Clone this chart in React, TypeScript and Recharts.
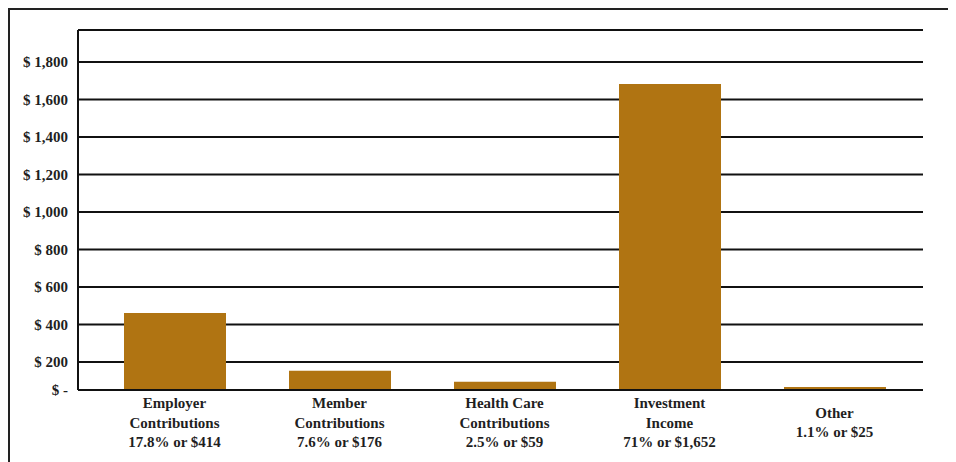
import { BarChart, Bar, XAxis, YAxis, CartesianGrid, ReferenceLine } from 'recharts'

// Category names and the two-or-three line labels printed under each bar
const categories = [
  'Employer Contributions',
  'Member Contributions',
  'Health Care Contributions',
  'Investment Income',
  'Other',
]
const labelLines = [
  ['Employer', 'Contributions', '17.8% or $414'],
  ['Member', 'Contributions', '7.6% or $176'],
  ['Health Care', 'Contributions', '2.5% or $59'],
  ['Investment', 'Income', '71% or $1,652'],
  ['Other', '1.1% or $25'],
]
// Bar heights as read against the gridlines (millions)
const amounts = [461, 153, 94, 1682, 66]

// Axis: the baseline sits a little above zero in the source picture
const yMin = 50
const yMax = 1970
const yTicks = [50, 200, 400, 600, 800, 1000, 1200, 1400, 1600, 1800]

const BAR_COLOR = '#b07412'
const FONT = '"Liberation Serif", "Times New Roman", serif'

const data = categories.map((name, i) => ({ name, value: amounts[i] }))

function yLabel(v: number) {
  return v === yMin ? '$ -' : `$ ${v.toLocaleString('en-US')}`
}

function CategoryTick({ x, y, payload, index }: any) {
  const lines = labelLines[index ?? payload.index] || [payload.value]
  const lineH = 19.5
  // center shorter labels against the three-line ones
  const startY = y + 10 + ((3 - lines.length) * lineH) / 2
  return (
    <text
      x={x}
      y={startY}
      textAnchor="middle"
      fontFamily={FONT}
      fontWeight="bold"
      fontSize={15}
      fill="#1f1f1f"
    >
      {lines.map((l: string, i: number) => (
        <tspan key={i} x={x} y={startY + i * lineH}>
          {l}
        </tspan>
      ))}
    </text>
  )
}

export default function App() {
  return (
    <>
      <style>{'html,body{overflow:hidden}'}</style>
      <div
        style={{
          width: 980,
          height: 452,
          borderTop: '2px solid #222',
          borderLeft: '2px solid #222',
          overflow: 'hidden',
        }}
      >
        <BarChart
          width={946}
          height={452}
          data={data}
          margin={{ top: 20, right: 33, left: 0, bottom: 0 }}
          barCategoryGap={0}
        >
          <CartesianGrid vertical={false} stroke="#111" strokeWidth={2} />
          <ReferenceLine y={yMax} stroke="#111" strokeWidth={2} />
          <XAxis
            dataKey="name"
            height={72}
            interval={0}
            padding={{ left: 14, right: 6 }}
            axisLine={{ stroke: '#111', strokeWidth: 2 }}
            tickLine={false}
            tick={<CategoryTick />}
          />
          <YAxis
            width={68}
            domain={[yMin, yMax]}
            ticks={yTicks}
            allowDataOverflow
            axisLine={{ stroke: '#111', strokeWidth: 2 }}
            tickLine={false}
            tickFormatter={yLabel}
            tick={{ fontFamily: FONT, fontWeight: 'bold', fontSize: 15, fill: '#1f1f1f' }}
            tickMargin={4}
          />
          <Bar dataKey="value" fill={BAR_COLOR} barSize={102} isAnimationActive={false} />
        </BarChart>
      </div>
    </>
  )
}
